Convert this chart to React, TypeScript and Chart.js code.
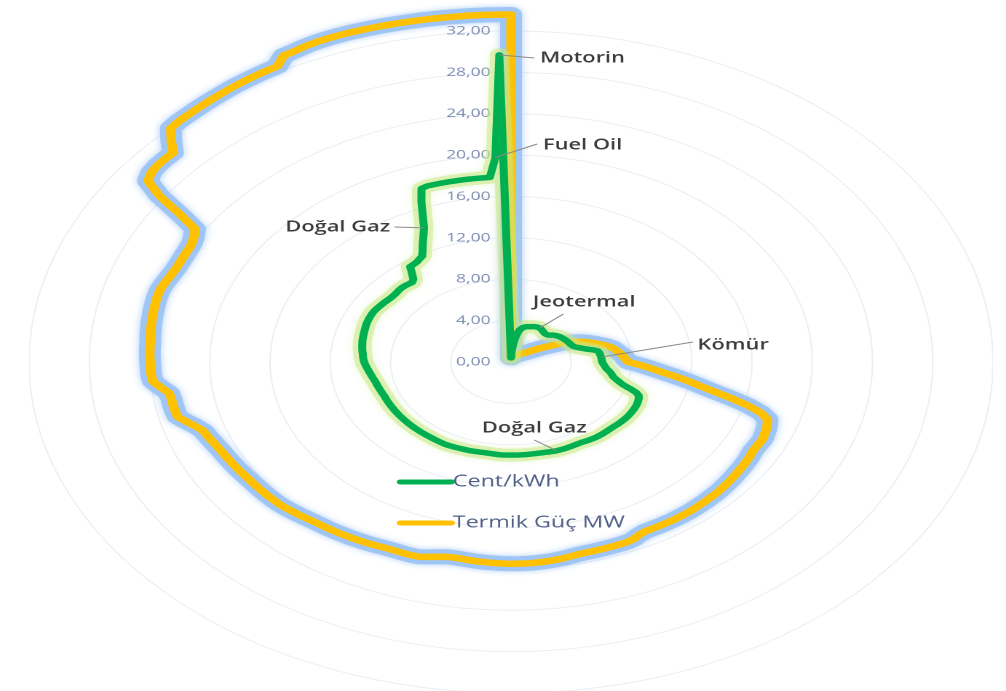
import React, { useEffect, useRef } from 'react';
import { Chart, registerables } from 'chart.js';

Chart.register(...registerables);

// Cent/kWh (green), one value per category, clockwise from the top
const centKwh = [
  0.4, 0.8, 1.2, 1.65, 2.1, 2.55, 2.9, 3.15, 3.3, 3.42,
  3.5, 3.56, 3.6, 3.62, 3.65, 3.7, 3.74, 3.77, 3.79, 3.8,
  3.8, 3.77, 3.73, 3.68, 3.64, 3.6, 3.56, 3.55, 3.55, 3.6,
  3.68, 3.78, 3.86, 3.93, 3.99, 4.05, 4.08, 4.11, 4.14, 4.17,
  4.2, 4.23, 4.26, 4.28, 4.3, 4.33, 4.37, 4.45, 4.6, 4.8,
  5.0, 5.25, 5.6, 5.85, 5.92, 5.95, 5.98, 6.0, 6.01, 6.03,
  6.05, 6.12, 6.2, 6.29, 6.38, 6.55, 6.7, 6.82, 6.95, 7.18,
  7.45, 7.75, 8.3, 8.8, 9.08, 9.18, 9.24, 9.29, 9.32, 9.34,
  9.35, 9.36, 9.36, 9.36, 9.35, 9.33, 9.31, 9.29, 9.26, 9.24,
  9.23, 9.23, 9.23, 9.23, 9.22, 9.21, 9.18, 9.15, 9.12, 9.09,
  9.07, 9.07, 9.08, 9.09, 9.1, 9.1, 9.1, 9.1, 9.08, 9.06,
  9.03, 9.02, 9.0, 9.0, 9.0, 9.0, 9.0, 9.0, 9.0, 9.0,
  9.0, 9.0, 9.0, 9.0, 8.98, 8.96, 8.95, 8.94, 8.94, 8.95,
  8.96, 8.98, 9.0, 9.0, 9.01, 9.02, 9.04, 9.05, 9.07, 9.08,
  9.07, 9.06, 9.05, 9.04, 9.03, 9.03, 9.03, 9.03, 9.03, 9.03,
  9.03, 9.03, 9.03, 9.03, 9.03, 9.03, 9.03, 9.03, 9.03, 9.03,
  9.03, 9.03, 9.03, 9.03, 9.03, 9.03, 9.03, 9.06, 9.08, 9.11,
  9.14, 9.17, 9.2, 9.26, 9.32, 9.38, 9.45, 9.52, 9.6, 9.68,
  9.75, 9.8, 9.84, 9.87, 9.92, 9.96, 10.0, 10.04, 10.08, 10.11,
  10.14, 10.17, 10.2, 10.24, 10.28, 10.3, 10.32, 10.33, 10.34, 10.33,
  10.3, 10.26, 10.22, 10.19, 10.15, 10.11, 10.1, 10.11, 10.15, 10.19,
  10.2, 10.19, 10.15, 10.11, 10.3, 10.8, 11.4, 11.44, 11.5, 11.65,
  11.8, 12.3, 12.9, 13.5, 14.2, 15.3, 16.6, 17.8, 17.9, 17.9,
  17.9, 17.9, 17.9, 17.9, 17.9, 17.9, 17.9, 17.9, 19.8, 29.7,
];

// Termik Güç MW (orange), same categories
const termikGuc = [
  33.6, 0.4, 0.42, 0.44, 0.46, 0.48, 0.5, 0.51, 0.52, 0.54,
  0.56, 0.58, 0.6, 0.62, 0.64, 0.66, 0.68, 0.71, 0.74, 0.77,
  0.8, 0.83, 0.86, 0.89, 0.93, 0.97, 1.01, 1.07, 1.12, 1.18,
  1.25, 1.33, 1.42, 1.52, 1.66, 1.88, 2.1, 2.36, 2.62, 2.9,
  3.3, 3.75, 4.15, 4.5, 4.8, 5.1, 5.35, 5.58, 5.85, 6.08,
  6.32, 6.58, 6.8, 6.95, 7.08, 7.2, 7.35, 7.46, 7.55, 7.65,
  7.8, 8.4, 9.0, 9.6, 10.3, 11.1, 11.95, 12.8, 13.8, 15.05,
  16.3, 17.3, 17.9, 18.05, 18.15, 18.22, 18.3, 18.26, 18.22, 18.22,
  18.3, 18.34, 18.38, 18.41, 18.45, 18.49, 18.53, 18.56, 18.6, 18.62,
  18.63, 18.65, 18.66, 18.68, 18.69, 18.69, 18.69, 18.68, 18.67, 18.66,
  18.64, 18.64, 18.75, 18.95, 19.03, 19.05, 19.05, 19.06, 19.07, 19.08,
  19.09, 19.12, 19.2, 19.28, 19.34, 19.4, 19.45, 19.48, 19.5, 19.5,
  19.5, 19.49, 19.47, 19.45, 19.42, 19.38, 19.33, 19.29, 19.28, 19.36,
  19.5, 19.65, 19.8, 19.82, 19.82, 19.81, 19.8, 19.83, 19.89, 19.94,
  19.98, 20.02, 20.06, 20.1, 20.13, 20.17, 20.2, 20.24, 20.32, 20.4,
  20.47, 20.55, 20.62, 20.65, 20.68, 20.7, 20.72, 20.74, 20.77, 20.82,
  20.87, 20.92, 20.96, 21.02, 21.08, 21.17, 21.27, 21.39, 21.5, 21.85,
  22.3, 22.75, 22.8, 22.82, 22.83, 22.9, 23.4, 23.85, 23.92, 23.94,
  23.96, 23.99, 24.01, 24.03, 24.08, 24.12, 24.17, 24.21, 24.25, 24.29,
  24.32, 24.33, 24.25, 24.15, 24.06, 24.0, 24.0, 24.01, 24.03, 24.1,
  24.3, 24.6, 26.2, 28.3, 29.8, 30.1, 30.2, 30.22, 30.2, 31.1,
  31.95, 32.06, 32.1, 32.15, 32.2, 32.26, 32.32, 32.38, 32.42, 32.46,
  32.5, 32.52, 33.25, 33.32, 33.45, 33.53, 33.57, 33.59, 33.6, 33.6,
  33.6, 33.6, 33.6, 33.6, 33.6, 33.6, 33.6, 33.6, 33.6, 33.6,
];

const categories = centKwh.map((_, i) => `Santral ${i + 1}`);

const tickValues = [0, 4, 8, 12, 16, 20, 24, 28, 32];
const tickLabels = ['0,00', '4,00', '8,00', '12,00', '16,00', '20,00', '24,00', '28,00', '32,00'];

const seriesNames = ['Cent/kWh', 'Termik Güç MW'];
const seriesColors = ['#00B050', '#FFC000'];
const glowColors = ['rgba(200,234,135,0.55)', 'rgba(155,195,245,0.9)'];

// callouts: text anchored to a Cent/kWh point; offsets relative to chart centre
const callouts = [
  { text: 'Motorin', index: 239, lineX: 16, lineY: -304, textX: 20, textY: -304, align: 'left' },
  { text: 'Fuel Oil', index: 238, lineX: 18, lineY: -218, textX: 22, textY: -217, align: 'left' },
  { text: 'Doğal Gaz', index: 224, lineX: -80, lineY: -135, textX: -83, textY: -135, align: 'right' },
  { text: 'Jeotermal', index: 20, lineX: 36, lineY: -48, textX: 15, textY: -60, align: 'left' },
  { text: 'Kömür', index: 57, lineX: 125, lineY: -20, textX: 128, textY: -17, align: 'left' },
  { text: 'Doğal Gaz', index: 107, lineX: 16, lineY: 78, textX: -20, textY: 66, align: 'left' },
];

const legendLayout = { lineStartX: -76, lineEndX: -41, textX: -40, rows: [120, 161] };

const STRETCH = 1006 / 691;
const LOGICAL_W = 662;
const LOGICAL_H = 740;
const CENTER_REF_X = 511;
const CENTER_REF_Y = 362;

const FONT = '"Open Sans", "DejaVu Sans", sans-serif';

const glowPlugin = {
  id: 'glow',
  beforeDatasetDraw(chart: any, args: any) {
    const ds = chart.data.datasets[args.index];
    if (ds.glow) {
      chart.ctx.save();
      chart.ctx.shadowColor = ds.borderColor;
      chart.ctx.shadowBlur = 12;
    }
  },
  afterDatasetDraw(chart: any, args: any) {
    const ds = chart.data.datasets[args.index];
    if (ds.glow) chart.ctx.restore();
  },
};

const tickPlugin = {
  id: 'leftTicks',
  beforeDatasetsDraw(chart: any) {
    const s = chart.scales.r;
    const ctx = chart.ctx;
    ctx.save();
    ctx.font = `12px ${FONT}`;
    ctx.fillStyle = '#7b8bb2';
    ctx.textAlign = 'right';
    ctx.textBaseline = 'middle';
    tickValues.forEach((v, i) => {
      const d = s.getDistanceFromCenterForValue(v);
      ctx.fillText(tickLabels[i], s.xCenter - 14, s.yCenter - d);
    });
    ctx.restore();
  },
};

const overlayPlugin = {
  id: 'overlay',
  afterDatasetsDraw(chart: any) {
    const s = chart.scales.r;
    const ctx = chart.ctx;
    const cx = s.xCenter;
    const cy = s.yCenter;
    const meta = chart.getDatasetMeta(0);
    ctx.save();
    callouts.forEach((c) => {
      const pt = meta.data[c.index];
      ctx.strokeStyle = '#8a8a8a';
      ctx.lineWidth = 1;
      ctx.beginPath();
      ctx.moveTo(pt.x, pt.y);
      ctx.lineTo(cx + c.lineX, cy + c.lineY);
      ctx.stroke();
      ctx.font = `600 15px ${FONT}`;
      ctx.fillStyle = '#3c3c3c';
      ctx.textAlign = c.align;
      ctx.textBaseline = 'middle';
      ctx.fillText(c.text, cx + c.textX, cy + c.textY);
    });
    legendLayout.rows.forEach((row, i) => {
      const y = cy + row;
      ctx.strokeStyle = seriesColors[i];
      ctx.lineWidth = 5;
      ctx.lineCap = 'round';
      ctx.beginPath();
      ctx.moveTo(cx + legendLayout.lineStartX, y);
      ctx.lineTo(cx + legendLayout.lineEndX, y);
      ctx.stroke();
      ctx.font = `16px ${FONT}`;
      ctx.fillStyle = '#4f5f86';
      ctx.textAlign = 'left';
      ctx.textBaseline = 'middle';
      ctx.fillText(seriesNames[i], cx + legendLayout.textX, y);
    });
    ctx.restore();
  },
};

export default function App() {
  const ref = useRef<HTMLCanvasElement | null>(null);

  useEffect(() => {
    document.body.style.margin = '0';
    const canvas = ref.current;
    if (!canvas) return;
    const common = {
      fill: false,
      pointRadius: 0,
      pointHoverRadius: 0,
      tension: 0,
      borderJoinStyle: 'round',
      borderCapStyle: 'round',
      backgroundColor: 'transparent',
      clip: false,
    };
    const chart = new Chart(canvas, {
      type: 'radar',
      data: {
        labels: categories,
        datasets: [
          { ...common, label: seriesNames[0], data: centKwh, borderColor: seriesColors[0], borderWidth: 5.5, order: 1 },
          { ...common, label: seriesNames[0] + ' glow', data: centKwh, borderColor: glowColors[0], borderWidth: 13, order: 2, glow: true },
          { ...common, label: seriesNames[1], data: termikGuc, borderColor: seriesColors[1], borderWidth: 6.5, order: 3 },
          { ...common, label: seriesNames[1] + ' glow', data: termikGuc, borderColor: glowColors[1], borderWidth: 15, order: 4, glow: true },
        ] as any,
      },
      options: {
        responsive: false,
        animation: false,
        devicePixelRatio: 2,
        events: [],
        layout: { padding: 0 },
        plugins: { legend: { display: false }, tooltip: { enabled: false }, title: { display: false } },
        scales: {
          r: {
            min: 0,
            max: 32,
            startAngle: 0,
            ticks: { display: false, stepSize: 4 },
            pointLabels: { display: false },
            angleLines: { display: false },
            grid: { circular: true, color: '#eceef5', lineWidth: 1 },
          },
        },
      } as any,
      plugins: [glowPlugin, tickPlugin, overlayPlugin],
    });
    return () => chart.destroy();
  }, []);

  const cssW = LOGICAL_W * STRETCH;
  const left = CENTER_REF_X - (LOGICAL_W / 2) * STRETCH;
  const top = CENTER_REF_Y - Math.floor(LOGICAL_H / 2);

  return (
    <div style={{ position: 'relative', width: 1006, height: 691, overflow: 'hidden', background: '#ffffff' }}>
      <canvas
        ref={ref}
        width={LOGICAL_W}
        height={LOGICAL_H}
        style={{ position: 'absolute', left: `${left}px`, top: `${top}px`, width: `${cssW}px`, height: `${LOGICAL_H}px` }}
      />
    </div>
  );
}
